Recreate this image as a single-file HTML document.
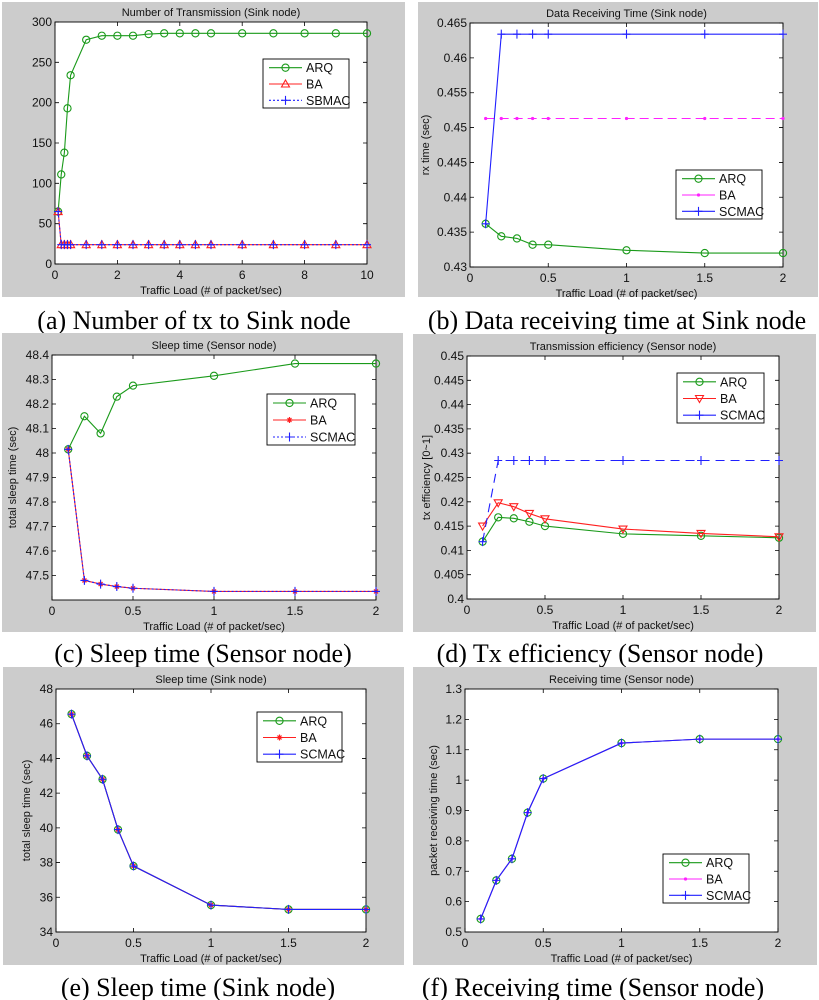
<!DOCTYPE html>
<html><head><meta charset="utf-8">
<style>
html,body{margin:0;padding:0;background:#fff;}
svg{display:block;font-family:"Liberation Sans",sans-serif;}
.cap{font-family:"Liberation Serif",serif;font-size:26px;fill:#000;}
</style></head>
<body>
<svg id="fig" width="819" height="1000" viewBox="0 0 819 1000" xmlns="http://www.w3.org/2000/svg"></svg>
<script>
const NS="http://www.w3.org/2000/svg";
const svg=document.getElementById('fig');

// ---- data arrays ----
const xA=[0.1,0.2,0.3,0.4,0.5,1,1.5,2,2.5,3,3.5,4,4.5,5,6,7,8,9,10];
const aARQ=[65,111,138,193,234,278,283,283,283,285,286,286,286,286,286,286,286,286,286];
const aBA=[65,24,24,24,24,24,24,24,24,24,24,24,24,24,24,24,24,24,24];
const aSB=[65,24,24,24,24,24,24,24,24,24,24,24,24,24,24,24,24,24,24];
const xB=[0.1,0.2,0.3,0.4,0.5,1,1.5,2];
const bARQ=[0.4362,0.4344,0.4341,0.4332,0.4332,0.4324,0.4320,0.4320];
const bBA=[0.4513,0.4513,0.4513,0.4513,0.4513,0.4513,0.4513,0.4513];
const bSC=[0.4362,0.4634,0.4634,0.4634,0.4634,0.4634,0.4634,0.4634];
const cARQ=[48.015,48.15,48.08,48.23,48.275,48.315,48.365,48.365];
const cBA=[48.015,47.48,47.465,47.455,47.448,47.435,47.435,47.435];
const cSC=[48.015,47.48,47.465,47.455,47.448,47.435,47.435,47.435];
const dARQ=[0.4118,0.4168,0.4166,0.4159,0.4150,0.4134,0.4130,0.4126];
const dBA=[0.4150,0.4198,0.4190,0.4176,0.4165,0.4144,0.4135,0.4128];
const dSC=[0.4118,0.4285,0.4285,0.4285,0.4285,0.4285,0.4285,0.4285];
const eARQ=[46.55,44.15,42.8,39.9,37.8,35.55,35.3,35.3];
const eBA=[46.55,44.15,42.8,39.9,37.8,35.55,35.3,35.3];
const eSC=[46.55,44.15,42.8,39.9,37.8,35.55,35.3,35.3];
const fARQ=[0.543,0.670,0.741,0.893,1.005,1.122,1.135,1.135];
const fBA=[0.543,0.670,0.741,0.893,1.005,1.122,1.135,1.135];
const fSC=[0.543,0.670,0.741,0.893,1.005,1.122,1.135,1.135];
const ticksX10=[0,2,4,6,8,10];
const ticksX2=[0,0.5,1,1.5,2];
const labX2=["0","0.5","1","1.5","2"];
const ticksYa=[0,50,100,150,200,250,300];
const ticksYb=[0.43,0.435,0.44,0.445,0.45,0.455,0.46,0.465];
const labYb=["0.43","0.435","0.44","0.445","0.45","0.455","0.46","0.465"];
const ticksYc=[47.5,47.6,47.7,47.8,47.9,48,48.1,48.2,48.3,48.4];
const labYc=["47.5","47.6","47.7","47.8","47.9","48","48.1","48.2","48.3","48.4"];
const ticksYd=[0.4,0.405,0.41,0.415,0.42,0.425,0.43,0.435,0.44,0.445,0.45];
const labYd=["0.4","0.405","0.41","0.415","0.42","0.425","0.43","0.435","0.44","0.445","0.45"];
const ticksYe=[34,36,38,40,42,44,46,48];
const ticksYf=[0.5,0.6,0.7,0.8,0.9,1,1.1,1.2,1.3];
const labYf=["0.5","0.6","0.7","0.8","0.9","1","1.1","1.2","1.3"];

function el(tag,attrs,parent,text){
  const e=document.createElementNS(NS,tag);
  for(const k in attrs)e.setAttribute(k,attrs[k]);
  if(text!==undefined)e.textContent=text;
  (parent||svg).appendChild(e);return e;
}

function marker(g,type,x,y,color){
  let m;
  if(type==='o'){m=el('circle',{cx:x,cy:y,r:3.6,fill:'none',stroke:color,'stroke-width':1.1},g);}
  else if(type==='^'){m=el('path',{d:`M${x},${y-4}L${x+4},${y+3}L${x-4},${y+3}Z`,fill:'none',stroke:color,'stroke-width':1.1},g);}
  else if(type==='v'){m=el('path',{d:`M${x},${y+4}L${x+4},${y-3}L${x-4},${y-3}Z`,fill:'none',stroke:color,'stroke-width':1.1},g);}
  else if(type==='+'){m=el('path',{d:`M${x-4},${y}H${x+4}M${x},${y-4.5}V${y+4.5}`,stroke:color,'stroke-width':1.1},g);}
  else if(type==='*'){m=el('path',{d:`M${x-3},${y}H${x+3}M${x},${y-3}V${y+3}M${x-2},${y-2}L${x+2},${y+2}M${x-2},${y+2}L${x+2},${y-2}`,stroke:color,'stroke-width':1.2},g);}
  else if(type==='.'){m=el('circle',{cx:x,cy:y,r:1.6,fill:color},g);}
  
  
}

function panel(p){
  const g=el('g',{});
  
  
  el('rect',{x:p.gx,y:p.gy,width:p.gw,height:p.gh,fill:'#cccccc'},g);
  el('rect',{x:p.L,y:p.T,width:p.R-p.L,height:p.B-p.T,fill:'#fff'},g);
  const sx=v=>p.L+(v-p.x0)/(p.x1-p.x0)*(p.R-p.L);
  const sy=v=>p.B-(v-p.y0)/(p.y1-p.y0)*(p.B-p.T);
  p.xt.forEach((t,i)=>{
    const x=sx(t);
    el('path',{d:`M${x},${p.B}V${p.B-4}M${x},${p.T}V${p.T+4}`,stroke:'#000','stroke-width':0.8},g);
    const tl=el('text',{x:x,y:p.B+15,'font-size':12,'text-anchor':'middle',fill:'#111'},g,p.xl?p.xl[i]:String(t));
    
  });
  p.yt.forEach((t,i)=>{
    const y=sy(t);
    el('path',{d:`M${p.L},${y}H${p.L+4}M${p.R},${y}H${p.R-4}`,stroke:'#000','stroke-width':0.8},g);
    const tl=el('text',{x:p.L-3,y:y+4,'font-size':12,'text-anchor':'end',fill:'#111'},g,p.yl?p.yl[i]:String(t));
    
  });
  el('rect',{x:p.L,y:p.T,width:p.R-p.L,height:p.B-p.T,fill:'none',stroke:'#000','stroke-width':0.9},g);
  const tt=el('text',{x:(p.L+p.R)/2,y:p.T-6,'font-size':11,'text-anchor':'middle',fill:'#111'},g,p.title);
  
  const xa=el('text',{x:(p.L+p.R)/2,y:p.B+30,'font-size':11,'text-anchor':'middle',fill:'#111'},g,'Traffic Load (# of packet/sec)');
  
  if(p.ylab){
    const cy=(p.T+p.B)/2;
    const ya=el('text',{x:p.ylx,y:cy,'font-size':11,'text-anchor':'middle',fill:'#111',transform:`rotate(-90 ${p.ylx} ${cy})`},g,p.ylab);
    
  }
  p.series.forEach(s=>{
    const sg=el('g',{},g);
    
    
    const pts=s.y.map((v,i)=>sx(p.xs[i])+','+sy(v)).join(' ');
    const a={points:pts,fill:'none',stroke:s.c,'stroke-width':s.w||1.1};
    if(s.dash)a['stroke-dasharray']=s.dash;
    el('polyline',a,sg);
    s.y.forEach((v,i)=>marker(sg,s.m,sx(p.xs[i]),sy(v),s.c));
  });
  const lg=el('g',{},g);
  
  
  el('rect',{x:p.lx,y:p.ly,width:p.lw,height:p.lh,fill:'#fff',stroke:'#000','stroke-width':0.9},lg);
  const step=p.lh/3;
  p.series.forEach((s,i)=>{
    const y=p.ly+step*(i+0.5)+0.5;
    const a={x1:p.lx+6,x2:p.lx+39,y1:y,y2:y,stroke:s.c,'stroke-width':s.w||1.1};
    if(s.legDash)a['stroke-dasharray']=s.legDash;
    el('line',a,lg);
    marker(lg,s.m,p.lx+22.5,y,s.c);
    const lt=el('text',{x:p.lx+43,y:y+4.5,'font-size':12.5,fill:'#111'},lg,s.label);
    
  });
  const c=el('text',{x:p.cx,y:p.cy,'text-anchor':'middle',class:'cap'},g,p.cap);
  
}

const G='#1a9a1a',Rd='#ff2020',Bl='#2020ff',Mg='#ff20ff';

panel({name:'chart-a',gx:2,gy:2,gw:403,gh:295,L:55,R:367,T:22,B:264,x0:0,x1:10,y0:0,y1:300,
  xs:xA,xt:ticksX10,yt:ticksYa,title:'Number of Transmission (Sink node)',
  series:[{label:'ARQ',y:aARQ,c:G,m:'o'},{label:'BA',y:aBA,c:Rd,m:'^'},{label:'SBMAC',y:aSB,c:Bl,m:'+',dash:'2,2',legDash:'2,2'}],
  lx:263,ly:59,lw:86,lh:49,cap:'(a) Number of tx to Sink node',cx:194,cy:329});

panel({name:'chart-b',gx:418,gy:2,gw:400,gh:295,L:470,R:783,T:23,B:267,x0:0,x1:2,y0:0.43,y1:0.465,
  xs:xB,xt:ticksX2,xl:labX2,yt:ticksYb,yl:labYb,title:'Data Receiving Time (Sink node)',ylab:'rx time (sec)',ylx:429,
  series:[{label:'ARQ',y:bARQ,c:G,m:'o'},{label:'BA',y:bBA,c:Mg,m:'.',dash:'9,5'},{label:'SCMAC',y:bSC,c:Bl,m:'+'}],
  lx:676,ly:170,lw:86,lh:49,cap:'(b) Data receiving time at Sink node',cx:617,cy:329});

panel({name:'chart-c',gx:2,gy:333,gw:401,gh:299,L:52,R:376,T:355,B:600,x0:0,x1:2,y0:47.4,y1:48.4,
  xs:xB,xt:ticksX2,xl:labX2,yt:ticksYc,yl:labYc,title:'Sleep time (Sensor node)',ylab:'total sleep time (sec)',ylx:16,
  series:[{label:'ARQ',y:cARQ,c:G,m:'o'},{label:'BA',y:cBA,c:Rd,m:'*'},{label:'SCMAC',y:cSC,c:Bl,m:'+',dash:'2,2',legDash:'2,2'}],
  lx:267,ly:394,lw:88,lh:51,cap:'(c) Sleep time (Sensor node)',cx:203,cy:662});

panel({name:'chart-d',gx:413,gy:334,gw:403,gh:298,L:467,R:779,T:356,B:599,x0:0,x1:2,y0:0.4,y1:0.45,
  xs:xB,xt:ticksX2,xl:labX2,yt:ticksYd,yl:labYd,title:'Transmission efficiency (Sensor node)',ylab:'tx efficiency [0~1]',ylx:430,
  series:[{label:'ARQ',y:dARQ,c:G,m:'o'},{label:'BA',y:dBA,c:Rd,m:'v'},{label:'SCMAC',y:dSC,c:Bl,m:'+',dash:'9,6'}],
  lx:677,ly:373,lw:87,lh:50,cap:'(d) Tx efficiency (Sensor node)',cx:600,cy:662});

panel({name:'chart-e',gx:3,gy:667,gw:401,gh:298,L:56,R:366,T:689,B:932,x0:0,x1:2,y0:34,y1:48,
  xs:xB,xt:ticksX2,xl:labX2,yt:ticksYe,title:'Sleep time (Sink node)',ylab:'total sleep time (sec)',ylx:30,
  series:[{label:'ARQ',y:eARQ,c:G,m:'o'},{label:'BA',y:eBA,c:Rd,m:'*'},{label:'SCMAC',y:eSC,c:Bl,m:'+'}],
  lx:257,ly:712,lw:85,lh:50,cap:'(e) Sleep time (Sink node)',cx:198,cy:996});

panel({name:'chart-f',gx:413,gy:667,gw:404,gh:298,L:465,R:778,T:689,B:932,x0:0,x1:2,y0:0.5,y1:1.3,
  xs:xB,xt:ticksX2,xl:labX2,yt:ticksYf,yl:labYf,title:'Receiving time (Sensor node)',ylab:'packet receiving time (sec)',ylx:437,
  series:[{label:'ARQ',y:fARQ,c:G,m:'o'},{label:'BA',y:fBA,c:Mg,m:'.'},{label:'SCMAC',y:fSC,c:Bl,m:'+'}],
  lx:663,ly:854,lw:86,lh:49,cap:'(f) Receiving time (Sensor node)',cx:593,cy:996});
</script>
</body></html>
